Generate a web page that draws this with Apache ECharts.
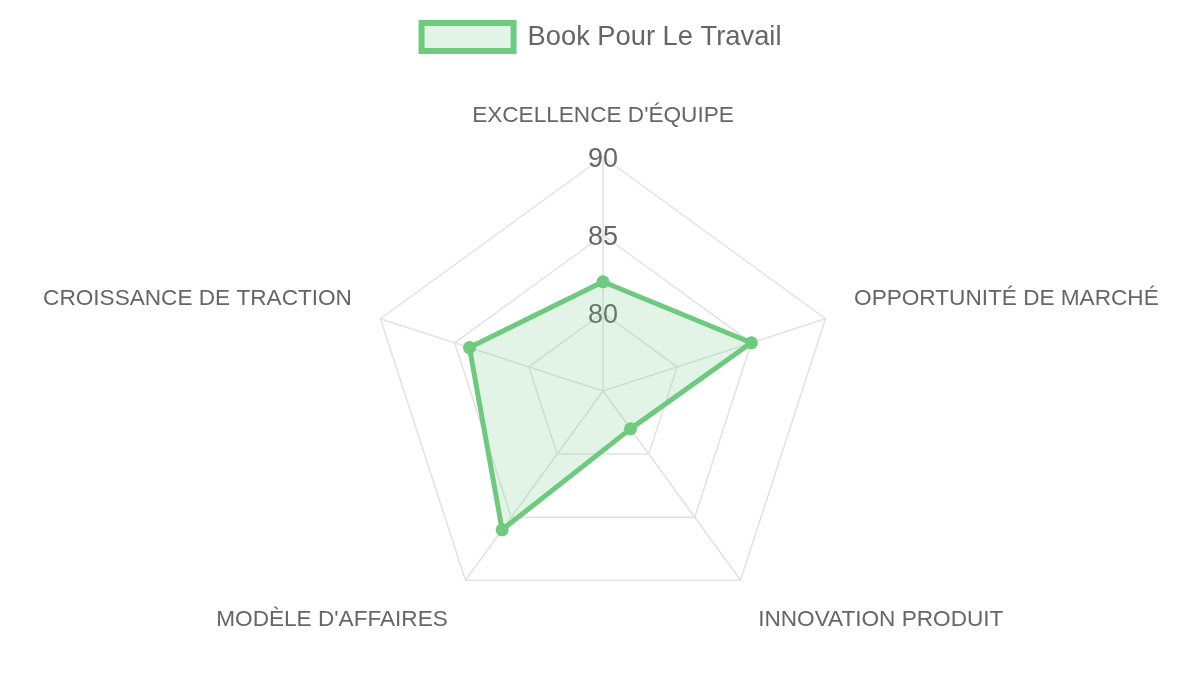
<!DOCTYPE html>
<html>
<head>
<meta charset="utf-8">
<script src="https://cdn.jsdelivr.net/npm/echarts@6/dist/echarts.min.js"></script>
<style>
html,body{margin:0;padding:0;background:#fff;}
#chart{width:1200px;height:675px;}
</style>
</head>
<body>
<div id="chart"></div>
<script>
const categories = ["EXCELLENCE D'ÉQUIPE", "OPPORTUNITÉ DE MARCHÉ", "INNOVATION PRODUIT", "MODÈLE D'AFFAIRES", "CROISSANCE DE TRACTION"];
const seriesName = "Book Pour Le Travail";
const values = [82, 85, 78, 86, 84];
const scaleMin = 75;
const scaleMax = 90;
const tickStep = 5;

// ECharts radar runs counter-clockwise; reorder so the drawing goes clockwise
const order = [0, 4, 3, 2, 1];
const cats = order.map(i => categories[i]);
const vals = order.map(i => values[i]);

const green = 'rgb(110,202,126)';
const greenFill = 'rgba(110,202,126,0.2)';
const font = '"Liberation Sans", Arial, Helvetica, sans-serif';
const nameStyle = { color: '#666', fontSize: 22.6, fontFamily: font };
const tickStyle = { color: '#666', fontSize: 27, fontFamily: font };

const chart = echarts.init(document.getElementById('chart'));
chart.setOption({
  animation: false,
  legend: {
    top: 15,
    left: 'center',
    padding: [5, 13, 5, 5],
    itemWidth: 92,
    itemHeight: 28,
    itemGap: 10,
    icon: 'rect',
    itemStyle: { color: greenFill, borderColor: green, borderWidth: 6 },
    textStyle: { fontSize: 27.3, color: '#666', fontFamily: font, padding: [0, 0, 0, 9] },
    data: [seriesName]
  },
  radar: {
    center: [603, 391],
    radius: 234,
    startAngle: 90,
    shape: 'polygon',
    splitNumber: 3,
    indicator: cats.map(n => ({ name: n, min: scaleMin, max: scaleMax })),
    axisName: {
      color: '#666', fontSize: 22.6, fontFamily: font,
      formatter: function (name) {
        const i = categories.indexOf(name);
        if (i === 0) return '{t|' + name + '}';
        if (i === 1 || i === 4) return '{up|' + name + '}';
        return '{down|' + name + '}';
      },
      rich: {
        t: Object.assign({}, nameStyle),
        up: Object.assign({ padding: [0, 0, 22, 0] }, nameStyle),
        down: Object.assign({ padding: [30, 0, 0, 0] }, nameStyle)
      }
    },
    nameGap: 30,
    splitArea: { show: false },
    splitLine: { lineStyle: { color: '#e2e2e2', width: 1.5 } },
    axisLine: { lineStyle: { color: '#e2e2e2', width: 1.5 } },
    axisLabel: { show: false }
  },
  polar: { center: [603, 391], radius: 234 },
  angleAxis: { show: false, startAngle: 90, min: 0, max: 360 },
  radiusAxis: {
    min: scaleMin, max: scaleMax, interval: tickStep,
    axisLine: { show: false }, axisTick: { show: false }, splitLine: { show: false },
    axisLabel: {
      show: true, margin: 0, align: 'center', verticalAlign: 'middle',
      fontSize: 27, color: '#666', fontFamily: font,
      formatter: v => v === scaleMin ? '' : '{k|' + v + '}',
      rich: { k: Object.assign({ padding: [6, 0, 0, 0] }, tickStyle) }
    }
  },
  series: [{
    type: 'radar',
    name: seriesName,
    symbol: 'circle',
    symbolSize: 13,
    lineStyle: { color: green, width: 5 },
    itemStyle: { color: green },
    areaStyle: { color: greenFill, opacity: 1 },
    data: [{ value: vals, name: seriesName }]
  }]
});
</script>
</body>
</html>
